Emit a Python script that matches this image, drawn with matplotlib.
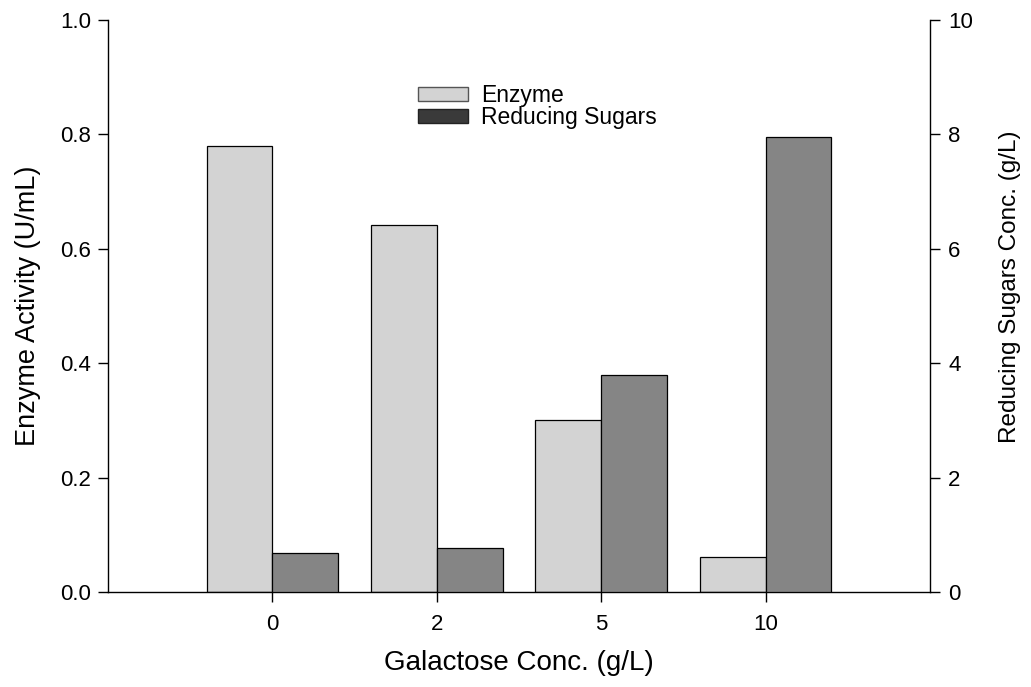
import matplotlib
matplotlib.use("Agg")
import matplotlib.pyplot as plt
from matplotlib.patches import Patch
import numpy as np

plt.rcParams['font.family'] = ['Liberation Sans', 'DejaVu Sans']

categories = ["0", "2", "5", "10"]
enzyme_activity = [0.78, 0.642, 0.30, 0.061]      # U/mL
reducing_sugars = [0.68, 0.77, 3.79, 7.95]        # g/L

enzyme_color = "#d3d3d3"
sugar_color = "#858585"
width = 0.4

fig = plt.figure(figsize=(10.31, 6.87), dpi=100)
ax = fig.add_axes([0.1048, 0.1383, 0.7973, 0.8326])
ax2 = ax.twinx()

x = np.arange(len(categories))
ax.bar(x - width / 2, enzyme_activity, width, color=enzyme_color,
       edgecolor="black", linewidth=0.9, zorder=2)
ax2.bar(x + width / 2, reducing_sugars, width, color=sugar_color,
        edgecolor="black", linewidth=0.9, zorder=2)

ax.set_xlim(-1, 4)
ax.set_ylim(0, 1.0)
ax2.set_ylim(0, 10)
ax.set_xticks(x)
ax.set_xticklabels(categories)
ax.set_yticks(np.arange(0, 1.01, 0.2))
ax.set_yticklabels([f"{v:.1f}" for v in np.arange(0, 1.01, 0.2)])
ax2.set_yticks(np.arange(0, 11, 2))

for a in (ax, ax2):
    a.spines['top'].set_visible(False)
    for s in a.spines.values():
        s.set_linewidth(1.0)
ax.spines['right'].set_visible(False)
ax2.spines['left'].set_visible(False)
ax2.spines['bottom'].set_visible(False)

ax.tick_params(axis='y', direction='out', length=7, width=1, labelsize=16, pad=5)
ax.tick_params(axis='x', direction='out', length=7, width=1, labelsize=16, pad=9)
ax2.tick_params(axis='y', direction='out', length=7, width=1, labelsize=16, pad=6)

ax.set_xlabel("Galactose Conc. (g/L)", fontsize=20, labelpad=11)
ax.set_ylabel("Enzyme Activity (U/mL)", fontsize=19.5, labelpad=14)
ax2.set_ylabel("Reducing Sugars Conc. (g/L)", fontsize=17.5)
ax2.yaxis.set_label_coords(1.084, 0.533)
ax2.yaxis.label.set_verticalalignment("top")

handles = [Patch(facecolor=enzyme_color, edgecolor="#555555", label="Enzyme"),
           Patch(facecolor="#3a3a3a", edgecolor="#222222", label="Reducing Sugars")]
ax.legend(handles=handles, loc="upper left", bbox_to_anchor=(0.377, 0.888),
          frameon=False, fontsize=16.5, handlelength=2.2, handleheight=0.55,
          handletextpad=0.55, labelspacing=-0.05, borderaxespad=0, borderpad=0)

fig.savefig("out.png", dpi=100, facecolor="white")
